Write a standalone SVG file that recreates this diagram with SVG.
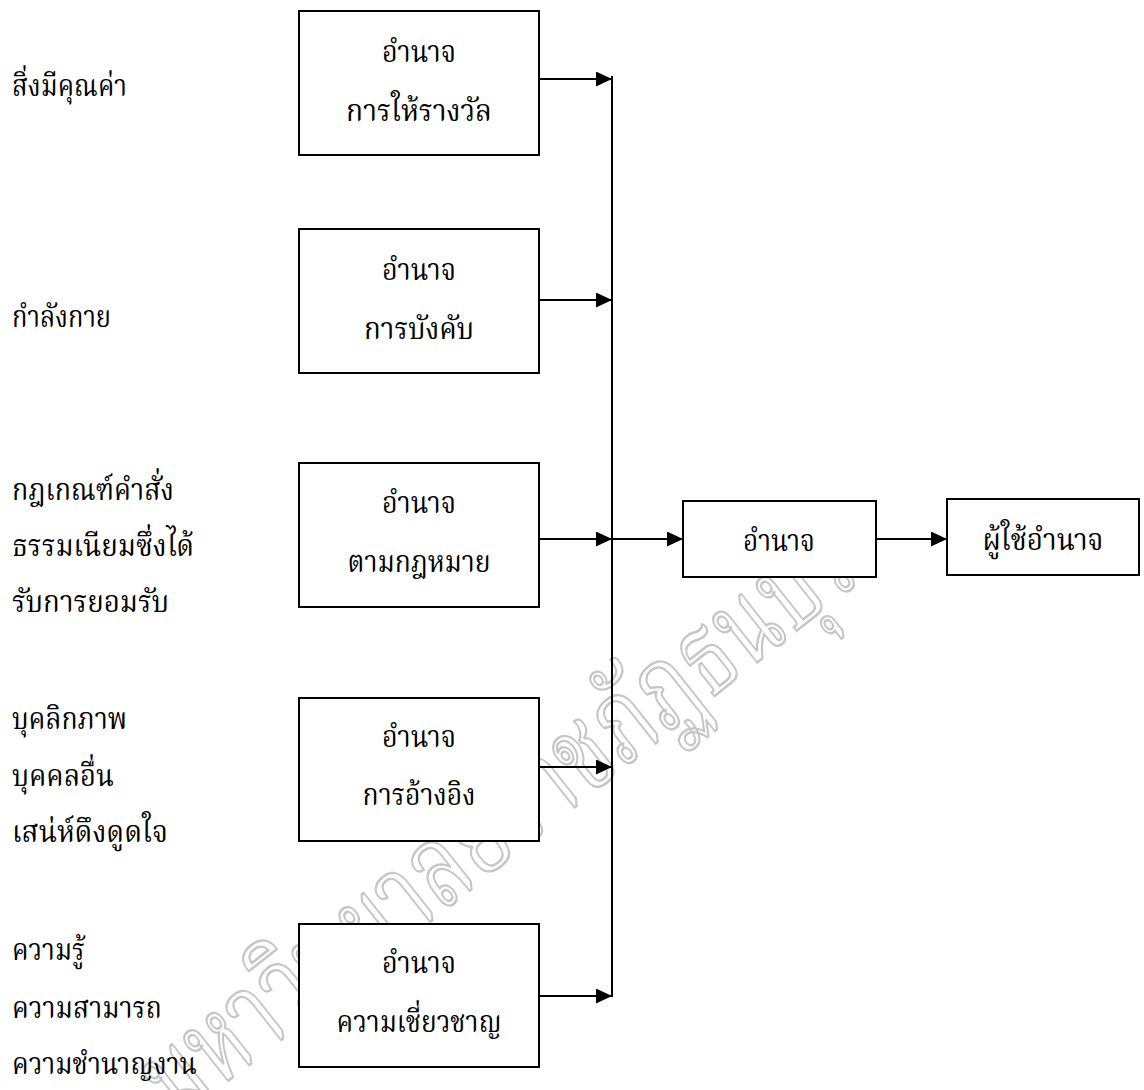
<svg xmlns="http://www.w3.org/2000/svg" width="1144" height="1090" viewBox="0 0 1144 1090">
  <style>
    text { font-family: "Liberation Serif", "Noto Serif Thai", "Noto Sans Thai", "Garuda", "Norasi", serif; font-size: 30px; fill: #000; }
    .c { text-anchor: middle; }
    .box { fill: #fff; stroke: #000; stroke-width: 2; }
    .wire { fill: none; stroke: #000; stroke-width: 2; }
    .wm { fill: none; stroke: #c6c6c6; stroke-width: 2.5; font-size: 115px; }
  </style>
  <defs>
    <marker id="ah" markerUnits="userSpaceOnUse" markerWidth="16" markerHeight="16" refX="16" refY="7.5" orient="auto">
      <path d="M0,0 L16,7.5 L0,15 z" fill="#000"/>
    </marker>
    <path id="wmpath" d="M175,1123 L 870,573"/>
  </defs>
  <rect width="1144" height="1090" fill="#fff"/>

  <g id="watermark">
    <text class="wm"><textPath href="#wmpath" textLength="880" lengthAdjust="spacingAndGlyphs">มหาวิทยาลัยราชภัฏธนบุรี</textPath></text>
  </g>

  <g id="labels">
    <text x="12" y="96" textLength="115" lengthAdjust="spacingAndGlyphs">สิ่งมีคุณค่า</text>
    <text x="12" y="327" textLength="99" lengthAdjust="spacingAndGlyphs">กำลังกาย</text>
    <text x="12" y="500" textLength="162" lengthAdjust="spacingAndGlyphs">กฎเกณฑ์คำสั่ง</text>
    <text x="12" y="556" textLength="182" lengthAdjust="spacingAndGlyphs">ธรรมเนียมซึ่งได้</text>
    <text x="12" y="612" textLength="157" lengthAdjust="spacingAndGlyphs">รับการยอมรับ</text>
    <text x="12" y="729" textLength="115" lengthAdjust="spacingAndGlyphs">บุคลิกภาพ</text>
    <text x="12" y="786" textLength="102" lengthAdjust="spacingAndGlyphs">บุคคลอื่น</text>
    <text x="12" y="842" textLength="156" lengthAdjust="spacingAndGlyphs">เสน่ห์ดึงดูดใจ</text>
    <text x="12" y="960" textLength="73" lengthAdjust="spacingAndGlyphs">ความรู้</text>
    <text x="12" y="1018" textLength="150" lengthAdjust="spacingAndGlyphs">ความสามารถ</text>
    <text x="12" y="1074" textLength="185" lengthAdjust="spacingAndGlyphs">ความชำนาญงาน</text>
  </g>

  <g id="connectors">
    <line class="wire" x1="612" y1="76" x2="612" y2="997"/>
    <line class="wire" x1="539" y1="79" x2="612" y2="79" marker-end="url(#ah)"/>
    <line class="wire" x1="539" y1="300" x2="612" y2="300" marker-end="url(#ah)"/>
    <line class="wire" x1="539" y1="539" x2="612" y2="539" marker-end="url(#ah)"/>
    <line class="wire" x1="539" y1="767" x2="612" y2="767" marker-end="url(#ah)"/>
    <line class="wire" x1="539" y1="996" x2="612" y2="996" marker-end="url(#ah)"/>
    <line class="wire" x1="612" y1="539" x2="683" y2="539" marker-end="url(#ah)"/>
    <line class="wire" x1="876" y1="539" x2="947" y2="539" marker-end="url(#ah)"/>
  </g>

  <g id="node-reward">
    <rect class="box" x="299" y="11" width="240" height="144"/>
    <text class="c" x="419" y="62" textLength="74" lengthAdjust="spacingAndGlyphs">อำนาจ</text>
    <text class="c" x="419" y="121" textLength="146" lengthAdjust="spacingAndGlyphs">การให้รางวัล</text>
  </g>
  <g id="node-coercive">
    <rect class="box" x="299" y="229" width="240" height="144"/>
    <text class="c" x="419" y="280" textLength="74" lengthAdjust="spacingAndGlyphs">อำนาจ</text>
    <text class="c" x="419" y="339" textLength="110" lengthAdjust="spacingAndGlyphs">การบังคับ</text>
  </g>
  <g id="node-legitimate">
    <rect class="box" x="299" y="463" width="240" height="144"/>
    <text class="c" x="419" y="513" textLength="74" lengthAdjust="spacingAndGlyphs">อำนาจ</text>
    <text class="c" x="419" y="572" textLength="143" lengthAdjust="spacingAndGlyphs">ตามกฎหมาย</text>
  </g>
  <g id="node-referent">
    <rect class="box" x="299" y="698" width="240" height="143"/>
    <text class="c" x="419" y="747" textLength="74" lengthAdjust="spacingAndGlyphs">อำนาจ</text>
    <text class="c" x="419" y="805" textLength="113" lengthAdjust="spacingAndGlyphs">การอ้างอิง</text>
  </g>
  <g id="node-expert">
    <rect class="box" x="299" y="924" width="240" height="143"/>
    <text class="c" x="419" y="973" textLength="74" lengthAdjust="spacingAndGlyphs">อำนาจ</text>
    <text class="c" x="419" y="1032" textLength="165" lengthAdjust="spacingAndGlyphs">ความเชี่ยวชาญ</text>
  </g>
  <g id="node-power">
    <rect class="box" x="683" y="501" width="193" height="76"/>
    <text class="c" x="779" y="551" textLength="72" lengthAdjust="spacingAndGlyphs">อำนาจ</text>
  </g>
  <g id="node-user">
    <rect class="box" x="947" y="499" width="192" height="76"/>
    <text class="c" x="1043" y="550" textLength="121" lengthAdjust="spacingAndGlyphs">ผู้ใช้อำนาจ</text>
  </g>
</svg>
